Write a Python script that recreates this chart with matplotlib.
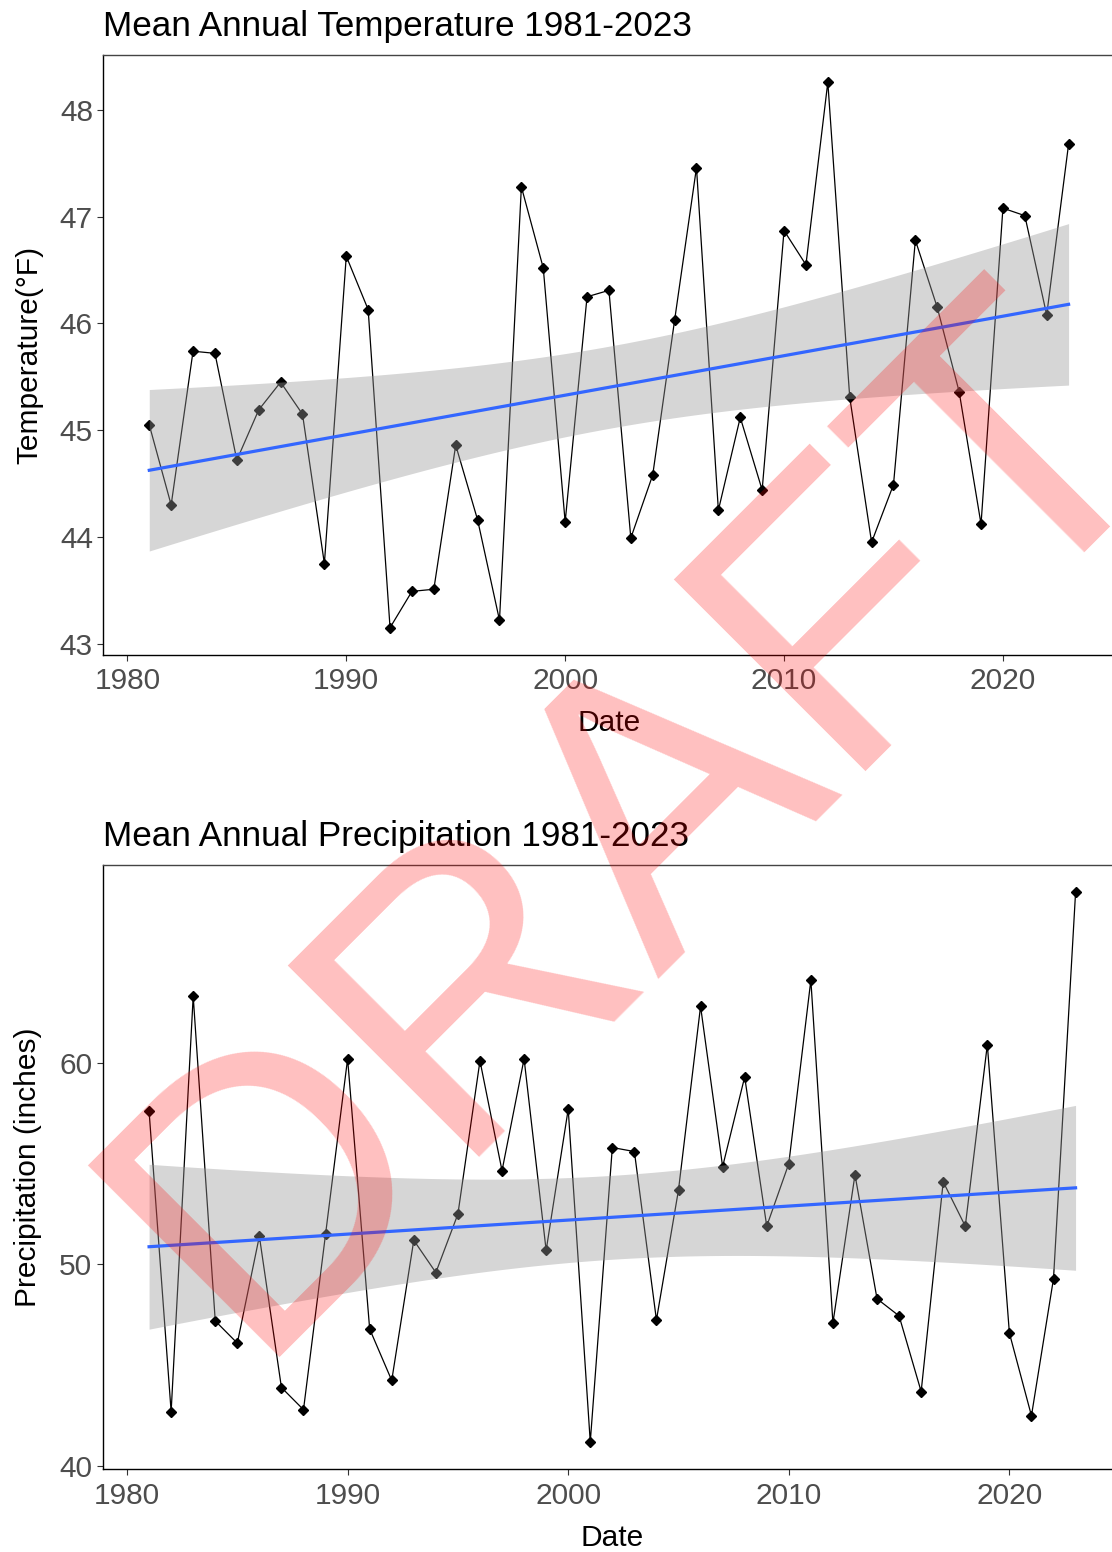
import numpy as np
import matplotlib
matplotlib.use('Agg')
from matplotlib import pyplot as plt

plt.rcParams['font.family'] = ['Liberation Sans', 'DejaVu Sans']

years = np.arange(1981, 2024)

temp = [45.05, 44.30, 45.74, 45.72, 44.72, 45.19, 45.45, 45.15, 43.75, 46.63,
        46.13, 43.15, 43.49, 43.51, 44.86, 44.16, 43.22, 47.28, 46.52, 44.14,
        46.25, 46.31, 43.99, 44.58, 46.03, 47.46, 44.25, 45.12, 44.44, 46.87,
        46.55, 48.26, 45.31, 43.95, 44.49, 46.78, 46.15, 45.36, 44.12, 47.08,
        47.01, 46.08, 47.68]

precip = [57.6, 42.7, 63.3, 47.2, 46.1, 51.4, 43.9, 42.8, 51.5, 60.2,
          46.8, 44.25, 51.2, 49.6, 52.5, 60.1, 54.65, 60.2, 50.7, 57.7,
          41.2, 55.8, 55.6, 47.25, 53.7, 62.8, 54.85, 59.3, 51.9, 55.0,
          64.1, 47.1, 54.45, 48.3, 47.45, 43.7, 54.1, 51.9, 60.9, 46.6,
          42.5, 49.3, 68.45]

titles = ['Mean Annual Temperature 1981-2023', 'Mean Annual Precipitation 1981-2023']
ylabels = ['Temperature(\u00b0F)', 'Precipitation (inches)']
yticks = [[43, 44, 45, 46, 47, 48], [40, 50, 60]]
xticks = [1980, 1990, 2000, 2010, 2020]

# panel boxes in figure fraction (right edge runs past the image like the original crop)
boxes = [[0.0929, 0.5780, 0.9094, 0.3866], [0.0924, 0.0532, 0.9165, 0.3895]]
labx = [-0.059, -0.0594]


def lm_band(x, y, t=2.0195):
    # straight-line fit with 95% confidence band, like geom_smooth(method='lm')
    x = np.asarray(x, float)
    y = np.asarray(y, float)
    b, a = np.polyfit(x, y, 1)
    n = len(x)
    s = np.sqrt(np.sum((y - (a + b*x))**2) / (n - 2))
    xs = np.linspace(x.min(), x.max(), 80)
    fit = a + b*xs
    se = s*np.sqrt(1.0/n + (xs - x.mean())**2 / np.sum((x - x.mean())**2))
    return xs, fit, fit - t*se, fit + t*se


fig = plt.figure(figsize=(11.12, 15.52), dpi=100)

for i, vals in enumerate([temp, precip]):
    ax = fig.add_axes(boxes[i])
    ax.plot(years, vals, color='black', lw=0.9, marker='D', ms=4.8, zorder=2)
    xs, fit, lo, hi = lm_band(years, vals)
    ax.fill_between(xs, lo, hi, color='#999999', alpha=0.4, lw=0, zorder=3)
    ax.plot(xs, fit, color='#3366FF', lw=2.3, zorder=4)

    span = max(vals) - min(vals)
    ax.set_ylim(min(vals) - 0.05*span, max(vals) + 0.05*span)
    ax.set_xlim(years[0] - 0.05*(years[-1] - years[0]), years[-1] + 0.05*(years[-1] - years[0]))
    ax.set_xticks(xticks)
    ax.set_yticks(yticks[i])

    for side in ['left', 'bottom']:
        ax.spines[side].set_color('black')
        ax.spines[side].set_linewidth(1.0)
    for side in ['top', 'right']:
        ax.spines[side].set_color('#444444')
        ax.spines[side].set_linewidth(1.0)

    ax.tick_params(direction='out', length=4.5, width=0.8, color='#333333',
                   labelsize=21.5, labelcolor='#4D4D4D')
    ax.tick_params(axis='x', pad=4.5)
    ax.tick_params(axis='y', pad=3)

    ax.set_title(titles[i], loc='left', fontsize=25.3, pad=13.5)
    ax.set_xlabel('Date', fontsize=21.5, labelpad=10)
    ax.set_ylabel(ylabels[i], fontsize=21.5)
    ax.yaxis.set_label_coords(labx[i], 0.5)

fig.text(0.6385, 0.424, 'DRAFT', rotation=45, rotation_mode='anchor',
         ha='center', va='baseline', fontsize=283, color='red', alpha=0.25,
         zorder=10)

fig.savefig('out.png', dpi=100)
